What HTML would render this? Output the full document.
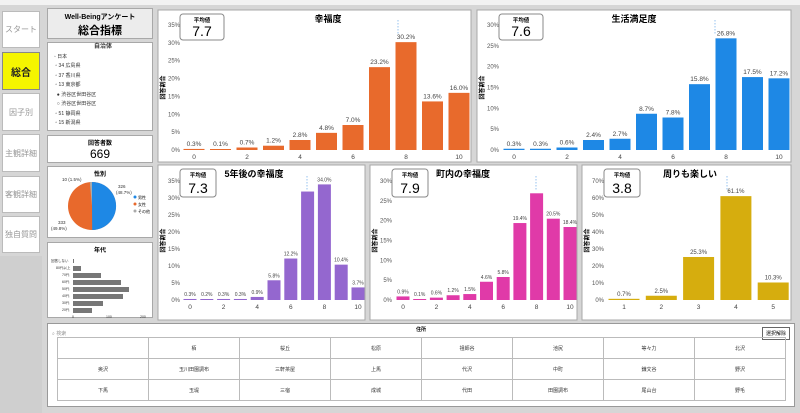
<!DOCTYPE html>
<html><head><meta charset="utf-8">
<style>
*{box-sizing:border-box;margin:0;padding:0}
body{width:800px;height:413px;background:#d6d6d6;font-family:"Liberation Sans","Noto Sans CJK JP",sans-serif;overflow:hidden;position:relative}
.abs{position:absolute}
.box{position:absolute;background:#fff;border:1px solid #a8a8a8}
.nav{position:absolute;left:2px;width:38px;background:#fff;border:1px solid #bbb;font-size:8px;color:#999;display:flex;align-items:center;justify-content:center}
svg text{font-family:"Liberation Sans","Noto Sans CJK JP",sans-serif}
td{border:1px solid #bbb;width:12.5%}
</style></head><body>
<div class="abs" style="left:0;top:0;width:800px;height:5px;background:#f2f2f2"></div>
<div class="abs" style="left:0;top:256px;width:42px;height:157px;background:#cfcfcf"></div>
<div class="nav" style="top:11px;height:37px">スタート</div>
<div class="nav" style="top:52px;height:38px;background:#f5f500;color:#222;font-weight:bold;font-size:10px;border-color:#888">総合</div>
<div class="nav" style="top:93px;height:38px">因子別</div>
<div class="nav" style="top:134px;height:38px">主観詳細</div>
<div class="nav" style="top:176px;height:37px">客観詳細</div>
<div class="nav" style="top:216px;height:37px">独自質問</div>

<div class="box" style="left:47px;top:8px;width:106px;height:31px;background:#ececec;text-align:center">
<div style="font-size:7px;font-weight:bold;margin-top:3px">Well-Beingアンケート</div>
<div style="font-size:11px;font-weight:bold">総合指標</div></div>
<div class="box" style="left:47px;top:42px;width:106px;height:89px;font-size:5px;color:#333;line-height:9.5px;padding-left:6px">
<div style="text-align:center;font-weight:bold;font-size:6px">自治体</div>
<div>◦ 日本</div><div>&nbsp;▫ 34 広島県</div><div>&nbsp;▫ 37 香川県</div><div>&nbsp;▫ 13 東京都</div><div>&nbsp;&nbsp;● 渋谷区世田谷区</div><div>&nbsp;&nbsp;○ 渋谷区世田谷区</div><div>&nbsp;▫ 51 静岡県</div><div>&nbsp;▫ 15 新潟県</div></div>
<div class="box" style="left:47px;top:135px;width:106px;height:28px;text-align:center">
<div style="font-size:6px;font-weight:bold;margin-top:2px">回答者数</div><div style="font-size:12px">669</div></div>
<div class="box" style="left:47px;top:166px;width:106px;height:72px">
<div style="text-align:center;font-size:6px;font-weight:bold;margin-top:2px">性別</div>
<svg class="abs" style="left:0;top:0" width="106" height="72">
<circle cx="44" cy="39" r="24" fill="#e8692c"/>
<path d="M44 39 L44 15 A24 24 0 0 1 44.2 63 Z" fill="#1e88e5"/>
<path d="M44 39 L41.8 15.1 A24 24 0 0 1 44 15 Z" fill="#aaa"/>
<text x="70" y="21" font-size="4.5" fill="#333">326</text><text x="68" y="27" font-size="4.5" fill="#333">(48.7%)</text>
<text x="14" y="14" font-size="4.5" fill="#333">10 (1.5%)</text>
<text x="10" y="57" font-size="4.5" fill="#333">333</text><text x="3" y="63" font-size="4.5" fill="#333">(49.8%)</text>
<circle cx="87" cy="30" r="1.5" fill="#1e88e5"/><text x="90" y="32" font-size="4">男性</text>
<circle cx="87" cy="37" r="1.5" fill="#e8692c"/><text x="90" y="39" font-size="4">女性</text>
<circle cx="87" cy="44" r="1.5" fill="#aaa"/><text x="90" y="46" font-size="4">その他</text>
</svg></div>
<div class="box" style="left:47px;top:242px;width:106px;height:76px">
<div style="text-align:center;font-size:6px;font-weight:bold;margin-top:2px">年代</div>
<svg class="abs" style="left:0;top:0" width="106" height="76">
<g font-size="3.5" fill="#333">
<text x="3" y="19">回答しない</text><rect x="25" y="16" width="1" height="4" fill="#777"/>
<text x="8" y="26">80代以上</text><rect x="25" y="23" width="8" height="5" fill="#777"/>
<text x="14" y="33">70代</text><rect x="25" y="30" width="28" height="5" fill="#777"/>
<text x="14" y="40">60代</text><rect x="25" y="37" width="48" height="5" fill="#777"/>
<text x="14" y="47">50代</text><rect x="25" y="44" width="56" height="5" fill="#777"/>
<text x="14" y="54">40代</text><rect x="25" y="51" width="50" height="5" fill="#777"/>
<text x="14" y="61">30代</text><rect x="25" y="58" width="30" height="5" fill="#777"/>
<text x="14" y="68">20代</text><rect x="25" y="65" width="19" height="5" fill="#777"/>
<text x="24" y="75">0</text><text x="58" y="75">100</text><text x="92" y="75">200</text></g></svg></div>

<svg id="charts" class="abs" style="left:0;top:0" width="800" height="413"></svg>

<div class="box" style="left:47px;top:323px;width:748px;height:84px;border-color:#999">
<div class="abs" style="left:0;top:0;width:100%;text-align:center;font-size:5px;font-weight:bold;top:2px">住所</div>
<div class="abs" style="left:4px;top:6px;font-size:5px;color:#999">⌕ 検索</div>
<div class="abs" style="right:4px;top:3px;font-size:5px;border:1px solid #666;padding:2px 3px">選択解除</div>
<table class="abs" style="left:9px;top:13px;width:729px;border-collapse:collapse;font-size:5px;color:#333;text-align:center">
<tr style="height:21px"><td></td><td>栢</td><td>桜丘</td><td>松原</td><td>祖師谷</td><td>池尻</td><td>等々力</td><td>北沢</td></tr>
<tr style="height:21px"><td>奥沢</td><td>玉川田園調布</td><td>三軒茶屋</td><td>上馬</td><td>代沢</td><td>中町</td><td>鎌文谷</td><td>野沢</td></tr>
<tr style="height:21px"><td>下馬</td><td>玉堤</td><td>三宿</td><td>成城</td><td>代田</td><td>田園調布</td><td>尾山台</td><td>野毛</td></tr>
</table></div>

<script>
const S=document.getElementById('charts');let h='';
function chart(o){
 h+=`<rect x="${o.x}" y="${o.y}" width="${o.w}" height="${o.h}" fill="#fff" stroke="#a8a8a8"/>`;
 h+=`<text x="${o.tx}" y="${o.y+12}" font-size="9" font-weight="bold" text-anchor="middle">${o.t}</text>`;
 const y0=o.y0,y1=o.y1,max=o.max;
 for(let v=0;v<=max;v+=o.step){const yy=y0-(y0-y1)*v/max;
  h+=`<text x="${o.x+22}" y="${yy+2}" font-size="6" fill="#555" text-anchor="end">${v}%</text>`;}
 h+=`<text x="${o.x+5}" y="${(y0+y1)/2}" font-size="6" font-weight="bold" transform="rotate(-90 ${o.x+5} ${(y0+y1)/2})" text-anchor="middle" dy="2">回答割合</text>`;
 o.d.forEach((v,i)=>{const cx=o.c0+i*o.dx,hh=(y0-y1)*v/max,top=y0-Math.max(hh,1);
  h+=`<rect x="${cx-o.bw/2}" y="${top}" width="${o.bw}" height="${y0-top}" fill="${o.col}"/>`;
  if(o.lab[i]!==null)h+=`<text x="${cx}" y="${top-3}" font-size="${o.fs}" fill="#444" text-anchor="middle">${o.lab[i]}</text>`;
  if(o.xl[i]!=='')h+=`<text x="${cx}" y="${y0+9}" font-size="6.5" fill="#444" text-anchor="middle">${o.xl[i]}</text>`;});
 h+=`<line x1="${o.mx}" y1="${y1-5}" x2="${o.mx}" y2="${y1+10}" stroke="#6aa8e8" stroke-dasharray="1.5,1.5" stroke-width=".7"/>`;
 h+=`<rect x="${o.x+22}" y="${o.y+4}" width="${o.bxw}" height="${o.bxh}" rx="3" fill="#fff" stroke="#888"/>`;
 h+=`<text x="${o.x+22+o.bxw/2}" y="${o.y+12}" font-size="5.5" font-weight="bold" text-anchor="middle">平均値</text>`;
 h+=`<text x="${o.x+22+o.bxw/2}" y="${o.y+4+o.bxh-4}" font-size="${o.mfs}" text-anchor="middle">${o.m}</text>`;
}
const xl11=['0','','2','','4','','6','','8','','10'];
const f=a=>a.map(v=>v==null?null:v.toFixed(1)+'%');
let d1=[0.3,0.1,0.7,1.2,2.8,4.8,7.0,23.2,30.2,13.6,16.0];
chart({x:158,y:10,w:313,h:152,t:'幸福度',tx:328,y0:150,y1:25,max:35,step:5,d:d1,lab:f(d1),xl:xl11,c0:194,dx:26.5,bw:21,col:'#e86a2c',fs:6.5,mx:398,m:'7.7',bxw:44,bxh:26,mfs:14});
let d2=[0.3,0.3,0.6,2.4,2.7,8.7,7.8,15.8,26.8,17.5,17.2];
chart({x:477,y:10,w:314,h:152,t:'生活満足度',tx:634,y0:150,y1:25,max:30,step:5,d:d2,lab:f(d2),xl:xl11,c0:514,dx:26.5,bw:21,col:'#1e88e5',fs:6.5,mx:715,m:'7.6',bxw:44,bxh:26,mfs:14});
let d3=[0.3,0.2,0.3,0.3,0.9,5.8,12.2,31.9,34.0,10.4,3.7];let l3=f(d3);l3[7]=null;
chart({x:158,y:165,w:207,h:155,t:'5年後の幸福度',tx:254,y0:300,y1:181,max:35,step:5,d:d3,lab:l3,xl:xl11,c0:190,dx:16.8,bw:13,col:'#9467cf',fs:5,mx:307,m:'7.3',bxw:36,bxh:28,mfs:14});
let d4=[0.9,0.1,0.6,1.2,1.5,4.6,5.8,19.4,26.9,20.5,18.4];let l4=f(d4);l4[8]=null;
chart({x:370,y:165,w:207,h:155,t:'町内の幸福度',tx:463,y0:300,y1:181,max:30,step:5,d:d4,lab:l4,xl:xl11,c0:403,dx:16.7,bw:13,col:'#e03aa8',fs:5,mx:536,m:'7.9',bxw:36,bxh:28,mfs:14});
let d5=[0.7,2.5,25.3,61.1,10.3];
chart({x:582,y:165,w:209,h:155,t:'周りも楽しい',tx:690,y0:300,y1:181,max:70,step:10,d:d5,lab:f(d5),xl:['1','2','3','4','5'],c0:624,dx:37.3,bw:31,col:'#d6ad0e',fs:6,mx:727,m:'3.8',bxw:36,bxh:28,mfs:14});
S.innerHTML=h;
</script>
</body></html>
